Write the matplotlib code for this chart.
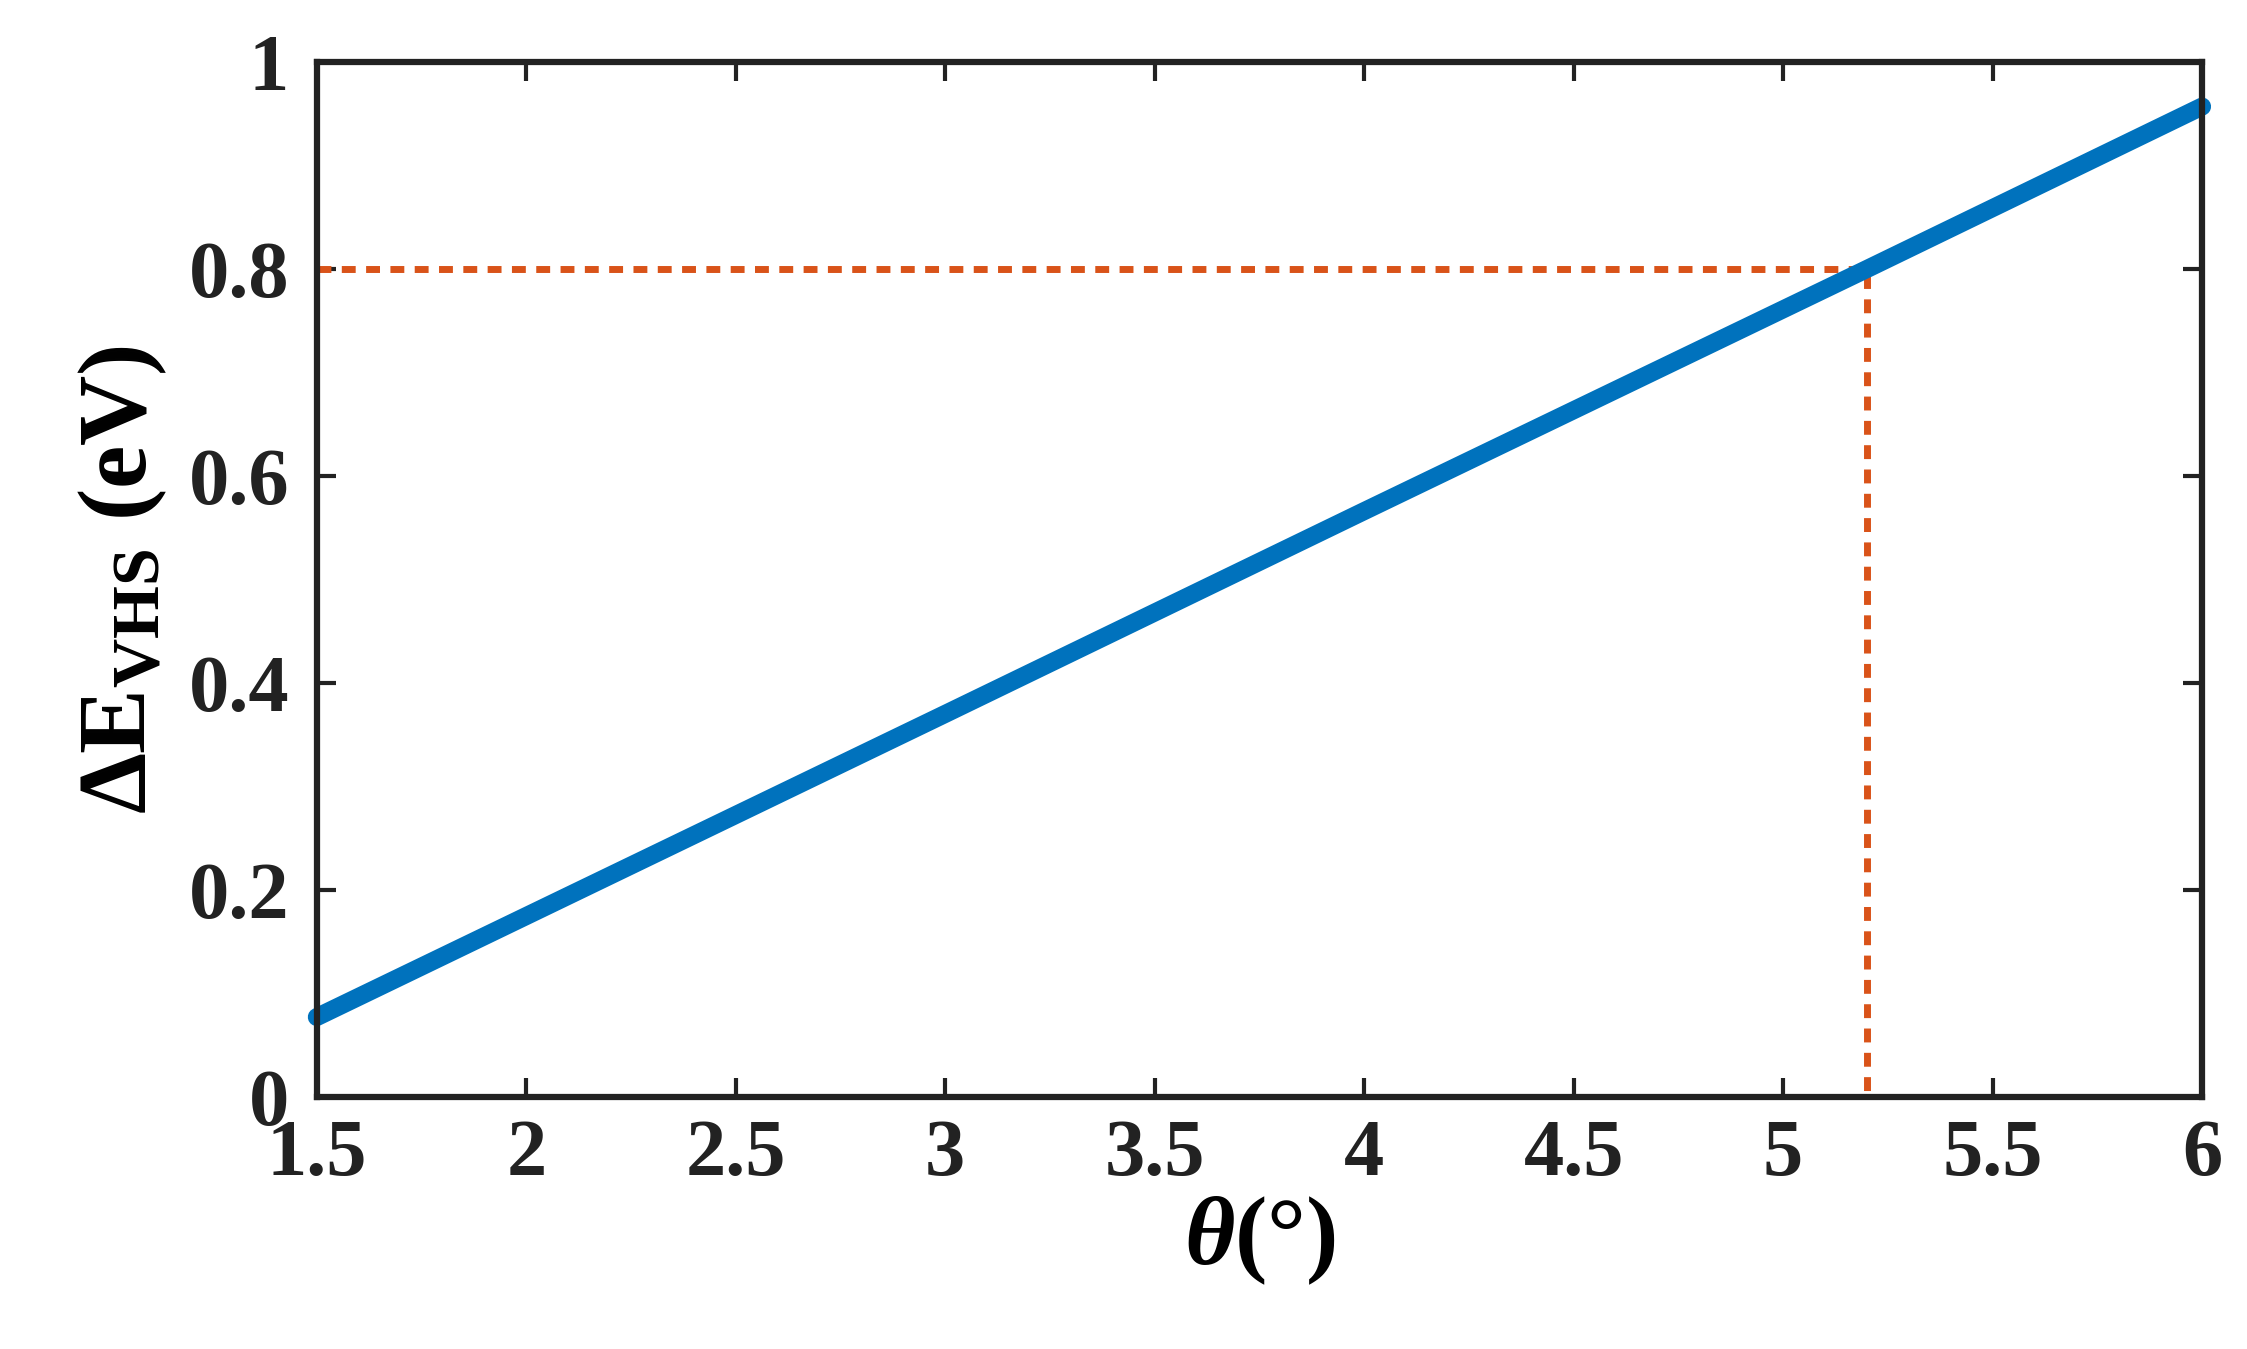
import matplotlib
matplotlib.use('Agg')
import matplotlib.pyplot as plt
from matplotlib.ticker import FuncFormatter

plt.rcParams['font.family'] = 'Liberation Serif'
plt.rcParams['font.weight'] = 'bold'
plt.rcParams['mathtext.fontset'] = 'custom'
plt.rcParams['mathtext.rm'] = 'Liberation Serif:bold'
plt.rcParams['mathtext.bf'] = 'Liberation Serif:bold'
plt.rcParams['mathtext.it'] = 'Liberation Serif:italic:bold'

theta = [1.5, 3.0, 4.0, 5.2, 6.0]
dE = [0.077, 0.370, 0.566, 0.800, 0.957]
mark_theta = 5.2
mark_dE = 0.8

fig = plt.figure(figsize=(22.47, 13.49), dpi=100)
ax = fig.add_axes([0.141, 0.187, 0.839, 0.767])
ax.plot([1.5, mark_theta, mark_theta], [mark_dE, mark_dE, 0], color='#D95319',
        lw=5, ls=(0, (2, 1.5)))
ax.plot(theta, dE, color='#0072BD', lw=13, solid_capstyle='round', clip_on=False)

ax.set_xlim(1.5, 6)
ax.set_ylim(0, 1)
ax.set_xticks([1.5, 2, 2.5, 3, 3.5, 4, 4.5, 5, 5.5, 6])
ax.set_yticks([0, 0.2, 0.4, 0.6, 0.8, 1])
fmt = FuncFormatter(lambda v, p: ('%g' % v))
ax.xaxis.set_major_formatter(fmt)
ax.yaxis.set_major_formatter(fmt)
ax.tick_params(direction='in', length=14, width=3, labelsize=58, top=True, right=True)
ax.tick_params(axis='x', pad=16)
ax.tick_params(axis='y', pad=20)
for s in ax.spines.values():
    s.set_linewidth(4.5)
    s.set_color('#222222')
ax.tick_params(colors='#222222')

ax.set_xlabel(r'$\mathit{\theta}$(°)', fontsize=70, fontweight='bold', labelpad=2)
ax.set_ylabel(r'$\Delta\mathrm{E}_{\mathrm{VHS}}$ (eV)', fontsize=70, fontweight='bold', labelpad=14)

fig.savefig('out.png', dpi=100)
